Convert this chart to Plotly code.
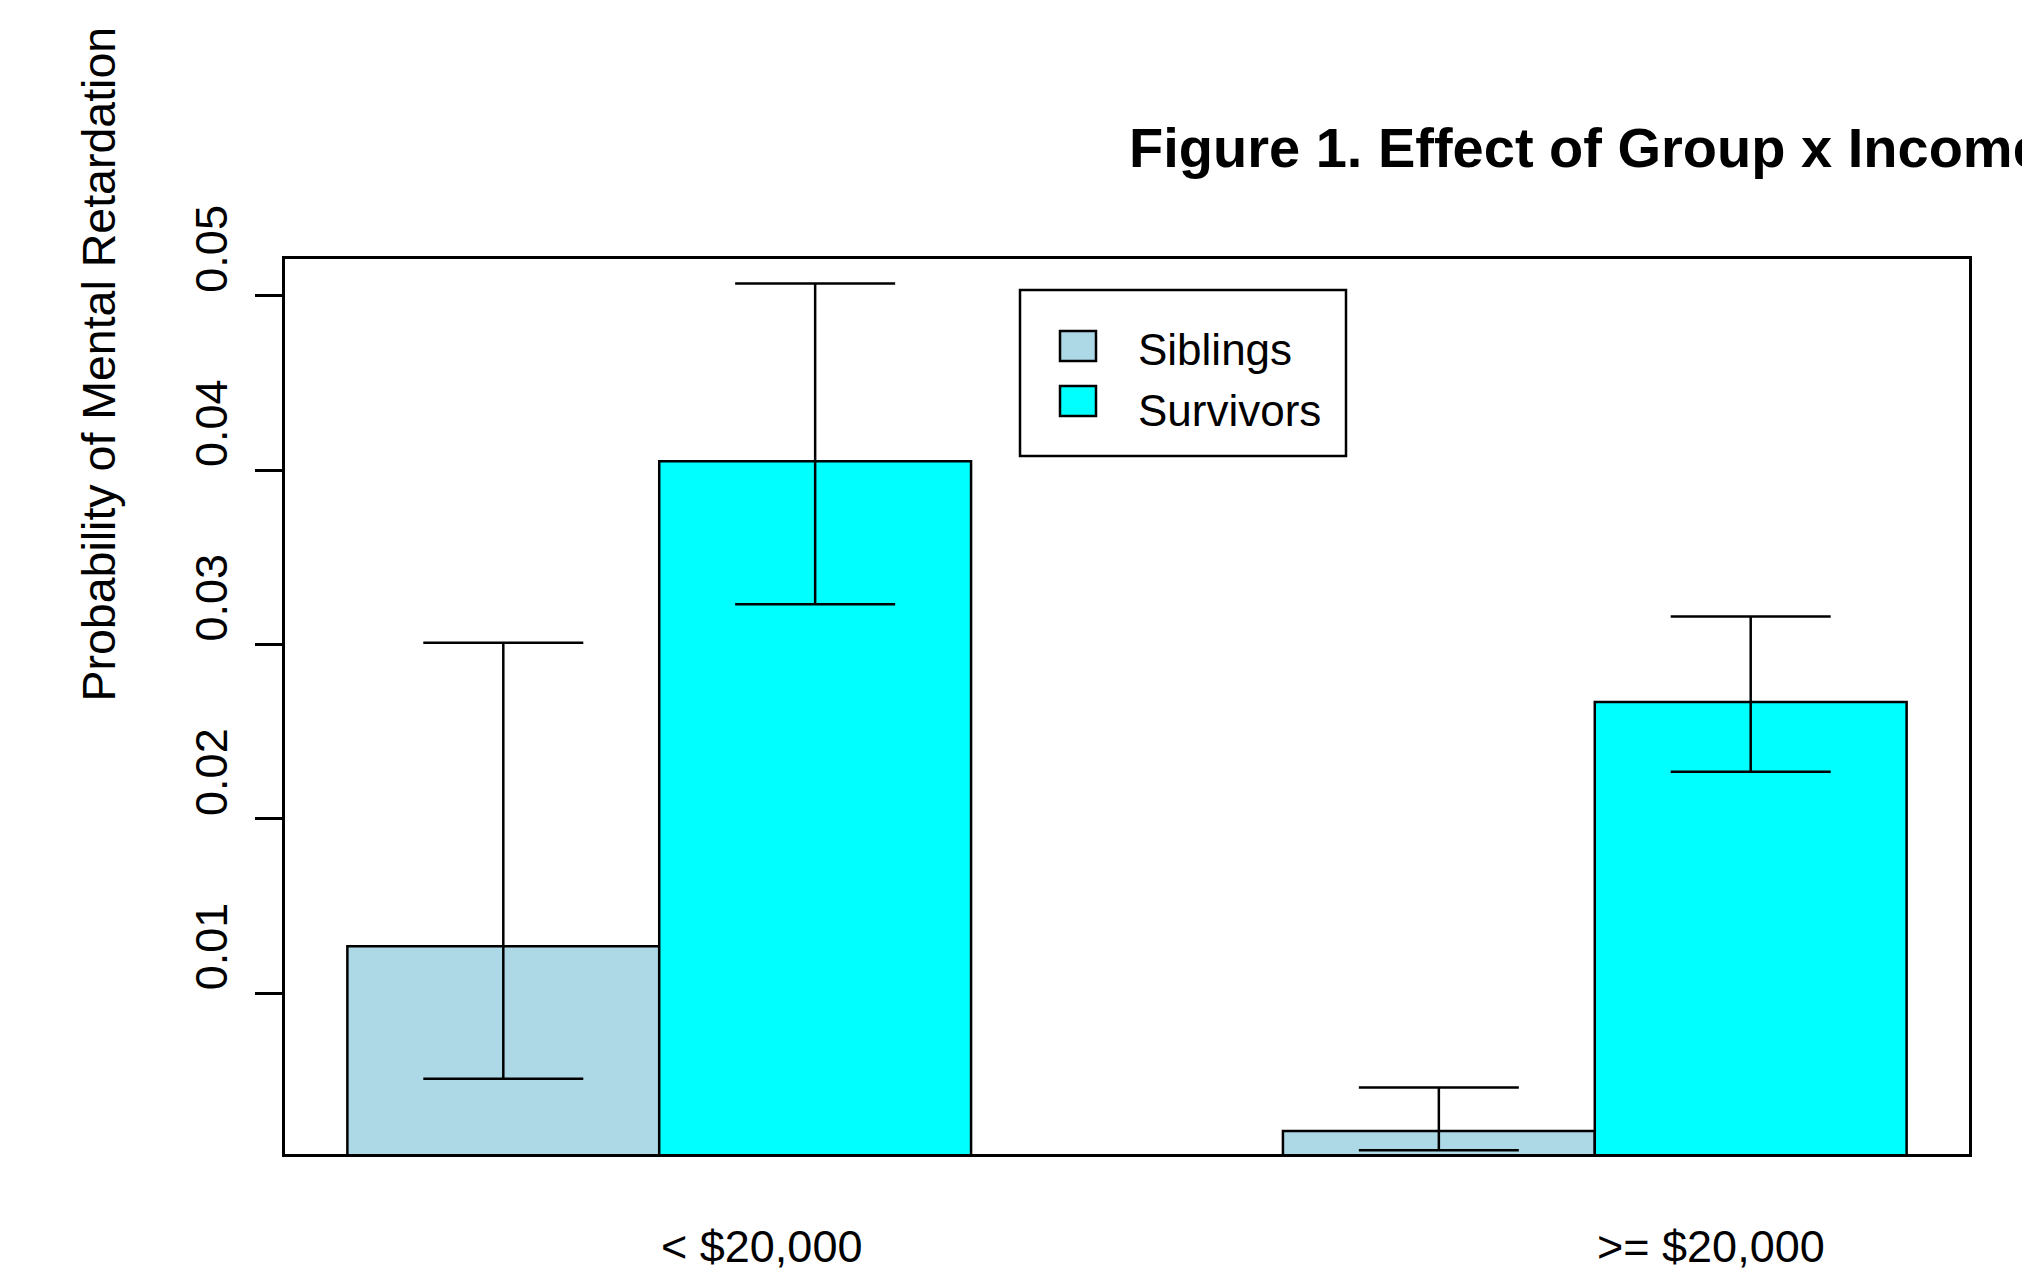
import plotly.graph_objects as go

# Estimated probabilities with lower/upper confidence limits
income = ["< $20,000", ">= $20,000"]
groups = ["Siblings", "Survivors"]
siblings = [0.0127, 0.0021]
siblings_lower = [0.0051, 0.0010]
siblings_upper = [0.0301, 0.0046]
survivors = [0.0405, 0.0267]
survivors_lower = [0.0323, 0.0227]
survivors_upper = [0.0507, 0.0316]
y_ticks = [0.01, 0.02, 0.03, 0.04, 0.05]
y_tick_labels = ["0.01", "0.02", "0.03", "0.04", "0.05"]

colors = {"Siblings": "#ADD8E6", "Survivors": "#00FFFF"}

W, H = 2022, 1284
L, R, T, B = 285, 53, 259, 130
FONT = "Liberation Sans, Arial, Helvetica, sans-serif"
LW = 2.5


def px_x(px):
    return (px - L) / (W - L - R)


def px_y(py):
    return (H - B - py) / (H - T - B)


fig = go.Figure()
for name, vals, lo, hi in [
    ("Siblings", siblings, siblings_lower, siblings_upper),
    ("Survivors", survivors, survivors_lower, survivors_upper),
]:
    fig.add_trace(go.Bar(
        name=name,
        x=income,
        y=vals,
        marker=dict(color=colors[name], line=dict(color="black", width=LW)),
        error_y=dict(
            type="data",
            symmetric=False,
            array=[h - v for h, v in zip(hi, vals)],
            arrayminus=[v - l for v, l in zip(vals, lo)],
            color="black",
            thickness=LW,
            width=80,
        ),
        showlegend=False,
    ))

annotations = []
# Category labels, left-aligned at each group's centre
for cat in income:
    annotations.append(dict(
        x=cat, xref="x", y=px_y(1246), yref="paper",
        text=cat, showarrow=False, xanchor="left", yanchor="middle",
        font=dict(family=FONT, size=45, color="black"),
    ))

# Y-axis title
annotations.append(dict(
    x=px_x(98), xref="paper", y=px_y(704), yref="paper",
    text="Probability of Mental Retardation", textangle=-90,
    showarrow=False, xanchor="center", yanchor="bottom",
    font=dict(family=FONT, size=46.5, color="black"),
))

# Title
annotations.append(dict(
    x=px_x(1127), xref="paper", y=px_y(148), yref="paper",
    text="<b>Figure 1. Effect of Group x Income</b>",
    showarrow=False, xanchor="left", yanchor="middle",
    font=dict(family=FONT, size=56, color="black"),
))

# Legend box with swatches
shapes = [dict(
    type="rect", xref="paper", yref="paper",
    x0=px_x(1020), x1=px_x(1346), y0=px_y(456), y1=px_y(290),
    line=dict(color="black", width=LW), fillcolor="white", layer="above",
)]
for name, top, bottom, text_mid in [("Siblings", 331, 361, 349), ("Survivors", 386, 416, 410)]:
    shapes.append(dict(
        type="rect", xref="paper", yref="paper",
        x0=px_x(1060), x1=px_x(1096), y0=px_y(bottom), y1=px_y(top),
        line=dict(color="black", width=LW), fillcolor=colors[name], layer="above",
    ))
    annotations.append(dict(
        x=px_x(1136), xref="paper", y=px_y(text_mid), yref="paper",
        text=name, showarrow=False, xanchor="left", yanchor="middle",
        font=dict(family=FONT, size=44, color="black"),
    ))

fig.update_layout(
    width=W, height=H,
    margin=dict(l=L, r=R, t=T, b=B, pad=0),
    paper_bgcolor="white", plot_bgcolor="white",
    barmode="group", bargap=1/3, bargroupgap=0,
    font=dict(family=FONT, color="black"),
    annotations=annotations,
    shapes=shapes,
    xaxis=dict(
        type="category", range=[-0.4, 1.4],
        showticklabels=False, ticks="",
        showline=True, mirror=True, linecolor="black", linewidth=LW,
        showgrid=False, zeroline=False, fixedrange=True,
    ),
    yaxis=dict(
        range=[0.000786, 0.0521],
        tickmode="array", tickvals=y_ticks, ticktext=y_tick_labels,
        ticks="outside", ticklen=27, tickwidth=LW, tickcolor="black",
        tickangle=-90, ticklabelshift=-40, ticklabelstandoff=10,
        tickfont=dict(family=FONT, size=45, color="black"),
        showline=True, mirror=True, linecolor="black", linewidth=LW,
        showgrid=False, zeroline=False, fixedrange=True,
    ),
)

fig.write_html("out.html")
